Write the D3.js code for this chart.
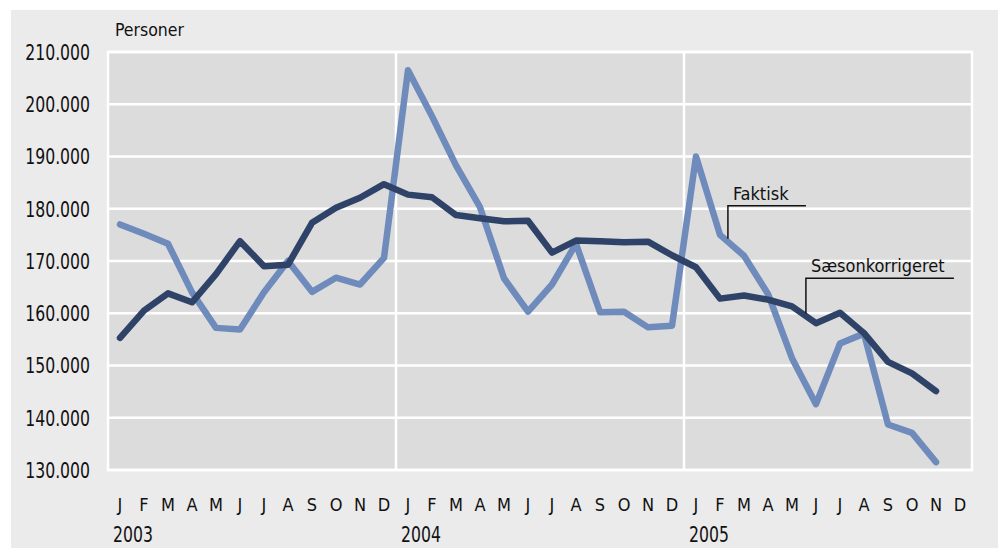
<!DOCTYPE html>
<html><head><meta charset="utf-8">
<script src="https://cdn.jsdelivr.net/npm/d3@7"></script>
<style>body{margin:0;background:#fff}svg{display:block}text{font-family:"DejaVu Sans Condensed","DejaVu Sans",sans-serif;fill:#111}</style>
</head><body>
<svg id="c" width="999" height="550"></svg>
<script>
const monthLetters = ["J","F","M","A","M","J","J","A","S","O","N","D"];
const years = ["2003","2004","2005"];
const yTicks = [130000,140000,150000,160000,170000,180000,190000,200000,210000];
const faktisk = [
  177000,175200,173300,164000,157200,156900,164000,170000,164100,166800,165500,170600,
  206500,197700,188300,180300,166700,160300,165500,173300,160200,160300,157300,157600,
  190000,175000,171000,163700,151400,142600,154200,156100,138700,137100,131500
];
const saeson = [
  155300,160500,163800,162100,167500,173800,169000,169300,177300,180200,182100,184700,
  182700,182200,178800,178200,177600,177700,171600,173900,173800,173600,173700,171100,
  168800,162800,163400,162600,161300,158100,160100,156200,150700,148500,145100
];
const seriesNames = ["Faktisk","Sæsonkorrigeret"];
const yLabel = "Personer";

const months = [];
years.forEach(y => monthLetters.forEach((m,i) => months.push(y+"-"+i)));

const svg = d3.select("#c");
const m = {l:108, t:52, r:972, b:470};
const SX = 0.85; // horizontal condensing for large labels

svg.append("rect").attr("x",11).attr("y",10).attr("width",987).attr("height",538).attr("fill","#ebebeb");

const x = d3.scaleBand().domain(months).range([m.l, m.r]).padding(0);
const y = d3.scaleLinear().domain([130000,210000]).range([m.b, m.t]);
const cx = i => x(months[i]) + x.bandwidth()/2;

svg.append("rect").attr("x",m.l).attr("y",m.t).attr("width",m.r-m.l).attr("height",m.b-m.t)
  .attr("fill","#dcdcdc").attr("stroke","#fff").attr("stroke-width",2.5);

svg.append("g").selectAll("line").data(yTicks).join("line")
  .attr("x1",m.l).attr("x2",m.r).attr("y1",d=>y(d)).attr("y2",d=>y(d))
  .attr("stroke","#fff").attr("stroke-width",2.5);
svg.append("g").selectAll("line").data(years.slice(1)).join("line")
  .attr("x1",d=>x(d+"-0")).attr("x2",d=>x(d+"-0")).attr("y1",m.t).attr("y2",m.b)
  .attr("stroke","#fff").attr("stroke-width",2.5);

const loc = d3.formatLocale({decimal:",", thousands:".", grouping:[3], currency:["",""]});
const fmt = loc.format(",d");

const ya = svg.append("g").attr("transform",`translate(${m.l},0)`)
  .call(d3.axisLeft(y).tickValues(yTicks).tickFormat(fmt).tickSize(0).tickPadding(18));
ya.select(".domain").remove();
ya.selectAll("text").attr("font-size",20.5).attr("fill","#111")
  .attr("font-family",'"DejaVu Sans Condensed","DejaVu Sans",sans-serif')
  .attr("x",-18/SX).attr("transform",`scale(${SX},1)`).attr("dy","0.36em");

const xa = svg.append("g").attr("transform",`translate(0,${m.b})`)
  .call(d3.axisBottom(x).tickFormat(d=>monthLetters[+d.split("-")[1]]).tickSize(0).tickPadding(28));
xa.select(".domain").remove();
xa.selectAll("text").attr("font-size",18).attr("fill","#111")
  .attr("font-family",'"DejaVu Sans Condensed","DejaVu Sans",sans-serif');

svg.append("g").selectAll("text").data(years).join("text")
  .attr("x",d=>(x(d+"-0")+5)/SX).attr("y",542).attr("transform",`scale(${SX},1)`)
  .attr("font-size",20.5).text(d=>d);

svg.append("text").attr("x",115).attr("y",36).attr("font-size",17.5).text(yLabel);

const line = d3.line().x((d,i)=>cx(i)).y(d=>y(d));
svg.append("path").datum(faktisk).attr("d",line).attr("fill","none")
  .attr("stroke","#6e8bbc").attr("stroke-width",6.5).attr("stroke-linecap","round").attr("stroke-linejoin","round");
svg.append("path").datum(saeson).attr("d",line).attr("fill","none")
  .attr("stroke","#2f4369").attr("stroke-width",6.5).attr("stroke-linecap","round").attr("stroke-linejoin","round");

function annot(name, i, frac, values, up, len) {
  const xp = cx(i) + frac*x.bandwidth();
  const v = values[i] + frac*(values[i+1]-values[i]);
  const yb = y(v) - 3;
  const yt = yb - up;
  svg.append("path").attr("d",`M${xp},${yb}V${yt}H${xp+len}`).attr("fill","none")
    .attr("stroke","#111").attr("stroke-width",1.5);
  svg.append("text").attr("x",xp+5).attr("y",yt-6).attr("font-size",18).text(name);
}
annot(seriesNames[0], 25, 0.33, faktisk, 33, 78);
annot(seriesNames[1], 28, 0.58, saeson, 35, 148);
</script>
</body></html>
